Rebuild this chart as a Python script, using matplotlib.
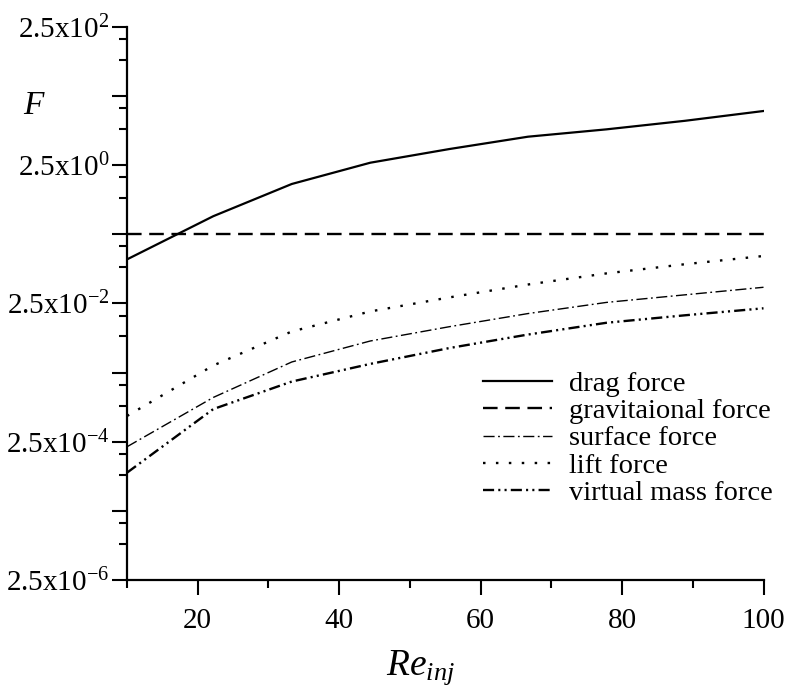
import matplotlib
matplotlib.use("Agg")
import matplotlib.pyplot as plt
from matplotlib.ticker import FixedLocator, FixedFormatter

plt.rcParams['font.family'] = ['Liberation Serif', 'DejaVu Serif']
plt.rcParams['mathtext.fontset'] = 'custom'
plt.rcParams['mathtext.rm'] = 'Liberation Serif'
plt.rcParams['mathtext.it'] = 'Liberation Serif:italic'
plt.rcParams['mathtext.bf'] = 'Liberation Serif:bold'
plt.rcParams['lines.scale_dashes'] = False

# ---- data ----
re_inj = [10, 22.2, 33.3, 44.4, 55.6, 66.7, 77.8, 88.9, 100]
drag_force = [0.108, 0.455, 1.33, 2.70, 4.26, 6.42, 8.2, 10.9, 15.1]
gravitational_force = [0.25] * 9
surface_force = [2.11e-4, 1.09e-3, 3.55e-3, 7.14e-3, 0.0115, 0.0178, 0.0258, 0.0332, 0.0427]
lift_force = [5.88e-4, 3.16e-3, 9.8e-3, 0.0191, 0.0305, 0.0468, 0.0678, 0.092, 0.121]
virtual_mass_force = [8.9e-5, 7.4e-4, 1.85e-3, 3.33e-3, 5.65e-3, 8.85e-3, 0.0131, 0.0168, 0.0212]

series_labels = ["drag force", "gravitaional force", "surface force", "lift force", "virtual mass force"]
y_exponents = [-6, -5, -4, -3, -2, -1, 0, 1, 2]
x_major = [20, 40, 60, 80, 100]
x_minor = [10, 30, 50, 70, 90]

# ---- figure ----
fig = plt.figure(figsize=(7.87, 6.86), dpi=100)
ax = fig.add_axes([127/787, 1-580/686, (763.5-127)/787, (580-26.7)/686])

ax.plot(re_inj, drag_force, color='black', lw=1.6, ls='-', label=series_labels[0])
ax.plot(re_inj, gravitational_force, color='black', lw=1.7, ls=(0, (10.5, 5.5)), label=series_labels[1])
ax.plot(re_inj, surface_force, color='black', lw=1.0, ls=(0, (8, 2.5, 1.3, 2.5)), label=series_labels[2])
ax.plot(re_inj, lift_force, color='black', lw=1.7, ls=(0, (1.8, 7.5)), label=series_labels[3])
ax.plot(re_inj, virtual_mass_force, color='black', lw=1.7, ls=(0, (8, 3, 1.5, 3, 1.5, 3)), label=series_labels[4])

ax.set_yscale('log')
ax.set_ylim(2.5e-6, 2.5e2)
ax.set_xlim(10, 100)

# y ticks
y_major = [2.5 * 10.0**k for k in y_exponents]
y_labels = [("2.5x10$^{%d}$" % k) if k % 2 == 0 else "" for k in y_exponents]
y_minor = []
for k in y_exponents[1:]:
    u = 2.5 * 10.0**k
    y_minor += [u/3, 2*u/3]
ax.yaxis.set_major_locator(FixedLocator(y_major))
ax.yaxis.set_major_formatter(FixedFormatter(y_labels))
ax.yaxis.set_minor_locator(FixedLocator(y_minor))
ax.yaxis.set_minor_formatter(FixedFormatter([""] * len(y_minor)))

ax.xaxis.set_major_locator(FixedLocator(x_major))
ax.xaxis.set_major_formatter(FixedFormatter([str(v) for v in x_major]))
ax.xaxis.set_minor_locator(FixedLocator(x_minor))

for s in ['top', 'right']:
    ax.spines[s].set_visible(False)
for s in ['left', 'bottom']:
    ax.spines[s].set_linewidth(1.6)

ax.tick_params(which='major', direction='out', length=10.5, width=1.5, labelsize=21, pad=2)
ax.tick_params(which='minor', direction='out', length=5.5, width=1.5)
ax.tick_params(axis='x', which='major', pad=10)

fig.text(33/787, 1-106/686, "F", fontsize=24, style='italic', ha='center', va='center')
fig.text(420/787, 1-668/686, r"$Re_{inj}$", fontsize=27, ha='center', va='center')

leg = ax.legend(loc='center', bbox_to_anchor=(628/787, 1-438.5/686), bbox_transform=fig.transFigure,
                frameon=False, fontsize=20.5, handlelength=2.4, handletextpad=0.6,
                labelspacing=0.05, borderpad=0)

fig.savefig("out.png", dpi=100)
